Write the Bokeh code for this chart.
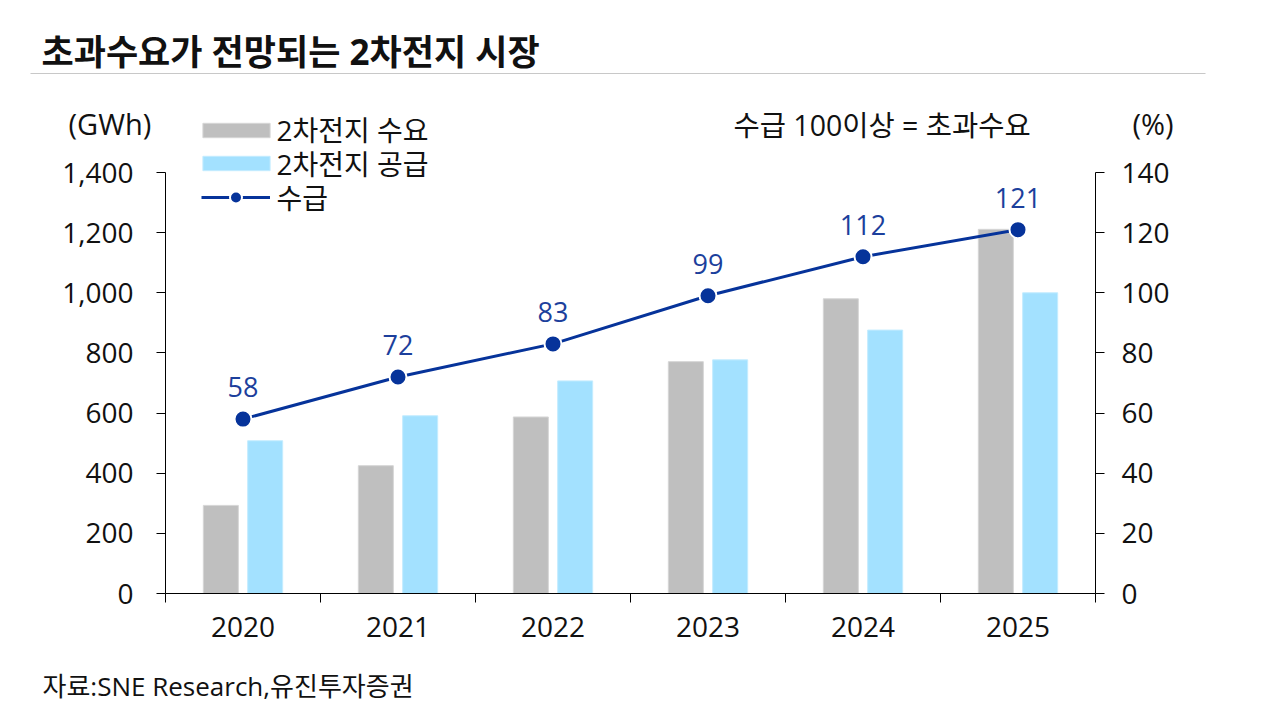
from bokeh.plotting import figure
from bokeh.models import (Range1d, LinearAxis, FixedTicker, NumeralTickFormatter, Label,
                          BoxAnnotation, Legend, LegendItem, ColumnDataSource, LabelSet)
from bokeh.core.properties import value
from bokeh.embed import file_html
from bokeh.resources import INLINE

# ---- data ----
years = ["2020", "2021", "2022", "2023", "2024", "2025"]
demand = [293, 425, 587, 771, 980, 1211]      # 2차전지 수요 (GWh)
supply = [508, 591, 707, 777, 876, 1000]      # 2차전지 공급 (GWh)
ratio = [58, 72, 83, 99, 112, 121]            # 수급 (%)
left_ticks = [0, 200, 400, 600, 800, 1000, 1200, 1400]
right_ticks = [0, 20, 40, 60, 80, 100, 120, 140]
series_names = ["2차전지 수요", "2차전지 공급", "수급"]

KR = "Noto Sans CJK KR"
MIX = "'Open Sans', 'Noto Sans CJK KR'"
NUM = "Open Sans"
GRAY = "#BFBFBF"
SKY = "#A3E1FF"
NAVY = "#06339A"
LBLUE = "#1C3F9C"
INK = "#111111"

W, H = 1269, 704
# plot-area geometry in canvas pixels
FL, FR, FT, FB = 165, 1095, 172, 593
n = len(years)
ymax_l, ymax_r = left_ticks[-1], right_ticks[-1]
kx = (FR - FL) / n
ky = (FB - FT) / ymax_l

x_rng = Range1d(-FL / kx, (W - FL) / kx)
y_rng = Range1d(-(H - FB) / ky, FB / ky)
r_scale = ymax_r / ymax_l
p = figure(width=W, height=H, output_backend="svg", toolbar_location=None, title=None,
           x_range=x_rng, y_range=y_rng, min_border=0,
           x_axis_location=None, y_axis_location=None)
p.extra_y_ranges = {"pct": Range1d(y_rng.start * r_scale, y_rng.end * r_scale)}
p.outline_line_color = None
p.xgrid.visible = False
p.ygrid.visible = False
p.background_fill_color = "white"
p.border_fill_color = "white"

def style_axis(ax, fs="28px"):
    ax.axis_line_color = "black"
    ax.axis_line_width = 1
    ax.major_tick_line_color = "black"
    ax.major_tick_in = 0
    ax.major_tick_out = 9
    ax.minor_tick_line_color = None
    ax.major_label_text_font = NUM
    ax.major_label_text_font_size = fs
    ax.major_label_text_color = INK

yl = LinearAxis(ticker=FixedTicker(ticks=left_ticks), formatter=NumeralTickFormatter(format="0,0"),
                fixed_location=0, bounds=(0, ymax_l))
style_axis(yl)
yl.major_label_standoff = 23
p.add_layout(yl, "left")

yr = LinearAxis(y_range_name="pct", ticker=FixedTicker(ticks=right_ticks),
                fixed_location=n, bounds=(0, ymax_r))
style_axis(yr)
yr.major_label_standoff = 17
p.add_layout(yr, "right")

centers = [i + 0.5 for i in range(n)]
xa = LinearAxis(ticker=FixedTicker(ticks=centers, minor_ticks=list(range(n + 1))),
                fixed_location=0, bounds=(0, n))
style_axis(xa)
xa.major_tick_line_color = None
xa.minor_tick_line_color = "black"
xa.minor_tick_in = 0
xa.minor_tick_out = 9
xa.major_label_overrides = {c: y for c, y in zip(centers, years)}
xa.major_label_standoff = 14
p.add_layout(xa, "below")

off = 0.143
bw = 0.226
src = ColumnDataSource(dict(
    xd=[c - off for c in centers], xs=[c + off for c in centers], xc=centers,
    demand=demand, supply=supply, ratio=ratio, lab=[str(r) for r in ratio]))

rd = p.vbar(x="xd", top="demand", width=bw, source=src, fill_color=GRAY, line_color="#D6D6D6", line_width=1)
rs = p.vbar(x="xs", top="supply", width=bw, source=src, fill_color=SKY, line_color="#C4ECFF", line_width=1)
rl = p.line(x="xc", y="ratio", source=src, y_range_name="pct", line_color=NAVY, line_width=3)
rm = p.scatter(x="xc", y="ratio", source=src, y_range_name="pct", size=17,
               fill_color=NAVY, line_color="white", line_width=2)

ls = LabelSet(x="xc", y="ratio", text="lab", source=src, y_range_name="pct", y_offset=32,
              text_align="center", text_baseline="middle", text_font=value(NUM),
              text_font_size="27px", text_color=LBLUE)
p.add_layout(ls)

# legend glyphs (one legend per entry, so each row sits exactly); texts as labels
def add_legend(renderers, x0, yc, gw, gh):
    leg = Legend(items=[LegendItem(label=" ", renderers=renderers)],
                 location=(x0, H - (yc + gh / 2)), orientation="vertical",
                 glyph_width=gw, glyph_height=gh, label_height=gh, label_width=1,
                 spacing=0, padding=0, margin=0, label_standoff=0,
                 border_line_color=None, background_fill_alpha=0,
                 label_text_font_size="1px", label_text_alpha=0)
    p.add_layout(leg)

# bar legend glyph boxes are inset by 10% on each side when drawn
add_legend([rd], 202 - 8.4, 129.5, 84, 18)
add_legend([rs], 202 - 8.4, 163, 84, 18)
add_legend([rl, rm], 201, 197, 69, 30)

def lab(text, x, y, size="28px", bold=False, align="left", color=INK, font=MIX):
    p.add_layout(Label(x=x, y=H - y, x_units="screen", y_units="screen", text=text,
                       text_font=font, text_font_size=size,
                       text_font_style="bold" if bold else "normal",
                       text_align=align, text_baseline="middle", text_color=color))

lab(series_names[0], 276, 129)
lab(series_names[1], 276, 163)
lab(series_names[2], 276, 197)

lab("초과수요가 전망되는 2차전지 시장", 41, 51, size="35px", bold=True)
lab("(GWh)", 68, 123, size="29px")
lab("수급 100이상 = 초과수요", 733, 124, size="28.5px")
lab("(%)", 1132, 123, size="29px")
lab("자료:SNE Research,유진투자증권", 42, 685, size="26px")

p.add_layout(BoxAnnotation(left=30, right=1205, top=H - 72.5, bottom=H - 73.5,
                           left_units="screen", right_units="screen", top_units="screen",
                           bottom_units="screen", fill_color="#C8C8C8", fill_alpha=1,
                           line_color=None))

open("out.html", "w").write(file_html(p, INLINE))
